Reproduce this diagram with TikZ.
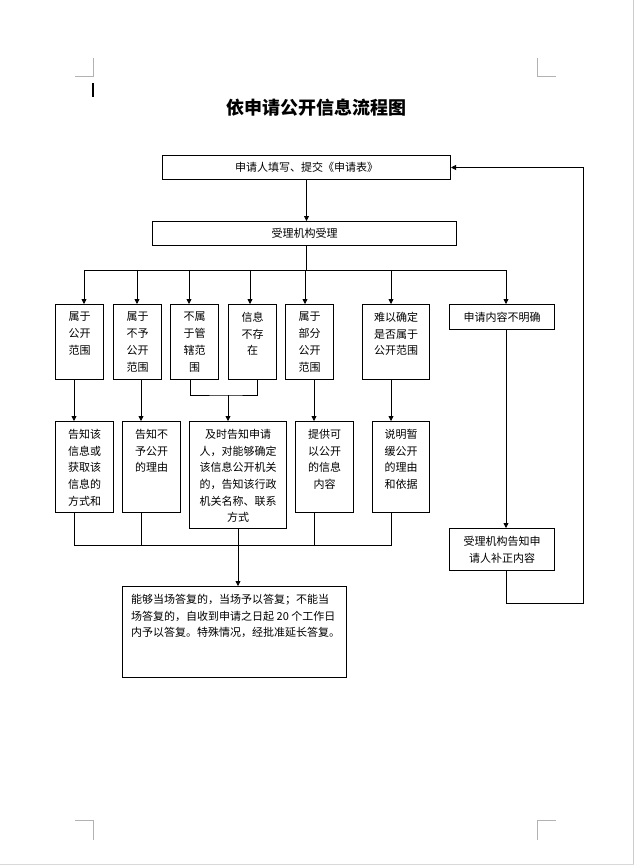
\documentclass[tikz,border=0pt]{standalone}
\usepackage{fontspec}
\setmainfont{Noto Sans CJK SC}
\usetikzlibrary{arrows.meta, calc}

\begin{document}
\begin{tikzpicture}[
  x=1pt, y=-1pt,
  font=\fontsize{11}{16.7}\selectfont,
  box/.style={draw, line width=1pt, inner sep=0pt, anchor=north west, align=center},
  txt/.style={anchor=north, align=center, inner sep=0pt, yshift=-8pt},
  arr/.style={-{Triangle[length=5pt,width=5pt]}, line width=0.8pt},
  ln/.style={line width=0.8pt},
  cropline/.style={draw=black!30, line width=0.6pt}
]
\useasboundingbox (0,0) rectangle (634,865);

% page marks
\draw[cropline] (75,76) -- (93,76) -- (93,58);
\draw[cropline] (537,58) -- (537,76) -- (556,76);
\draw[cropline] (75,820) -- (93,820) -- (93,840);
\draw[cropline] (556,820) -- (537,820) -- (537,840);
\draw[line width=1.6pt] (93,83) -- (93,97);
\draw[draw=black!20, line width=1pt] (633.5,0) -- (633.5,865);
\draw[draw=black!15, line width=1pt] (0,864.5) -- (634,864.5);

\node[font=\fontsize{18}{20}\selectfont\bfseries] (title) at (316,108) {依申请公开信息流程图};

\node[box, minimum width=288pt, minimum height=24pt] (apply) at (162,155) {申请人填写、提交《申请表》};
\node[box, minimum width=304pt, minimum height=24pt] (accept) at (152,221) {受理机构受理};

% first row
\node[box, minimum width=48pt, minimum height=75pt, label={[txt]north:属于\\公开\\范围}] (b1) at (55,304) {};
\node[box, minimum width=48pt, minimum height=75pt, label={[txt]north:属于\\不予\\公开\\范围}] (b2) at (113,304) {};
\node[box, minimum width=48pt, minimum height=75pt, label={[txt]north:不属\\于管\\辖范\\围}] (b3) at (170,304) {};
\node[box, minimum width=48pt, minimum height=75pt, label={[txt]north:信息\\不存\\在}] (b4) at (228,304) {};
\node[box, minimum width=48pt, minimum height=75pt, label={[txt]north:属于\\部分\\公开\\范围}] (b5) at (285,304) {};
\node[box, minimum width=67pt, minimum height=75pt, label={[txt]north:难以确定\\是否属于\\公开范围}] (b6) at (362,304) {};
\node[box, minimum width=105pt, minimum height=25pt] (b7) at (449,304) {申请内容不明确};

% second row
\node[box, minimum width=58pt, minimum height=91pt, label={[txt]north:告知该\\信息或\\获取该\\信息的\\方式和}] (r1) at (55,421) {};
\node[box, minimum width=58pt, minimum height=91pt, label={[txt]north:告知不\\予公开\\的理由}] (r2) at (122,421) {};
\node[box, minimum width=97pt, minimum height=107pt, label={[txt]north:及时告知申请\\人，对能够确定\\该信息公开机关\\的，告知该行政\\机关名称、联系\\方式}] (r3) at (189,421) {};
\node[box, minimum width=58pt, minimum height=91pt, label={[txt]north:提供可\\以公开\\的信息\\内容}] (r4) at (295,421) {};
\node[box, minimum width=57pt, minimum height=91pt, label={[txt]north:说明暂\\缓公开\\的理由\\和依据}] (r5) at (372,421) {};
\node[box, minimum width=105pt, minimum height=42pt] (r7) at (449,528) {受理机构告知申\\请人补正内容};

\node[box, minimum width=224pt, minimum height=91pt, label={[anchor=north west, align=left, inner sep=0pt, xshift=9pt, yshift=-8pt]north west:能够当场答复的，当场予以答复；不能当\\场答复的，自收到申请之日起 20 个工作日\\内予以答复。特殊情况，经批准延长答复。}] (final) at (122,586) {};

\coordinate (bus) at (306,270);
\coordinate (join) at (228,395);
\coordinate (merge) at (238,545);
\coordinate (back) at (583,603);

\draw[arr] (apply.south) -- (apply.south |- accept.north);
\draw[ln] (306,0 |- accept.south) -- (bus);
\draw[ln] (84,0 |- bus) -- (506,0 |- bus);
\foreach \n/\x in {b1/84, b2/137, b3/189, b4/250, b5/305, b6/391, b7/506}
  \draw[arr] (\x,0 |- bus) -- (\x,0 |- \n.north);

\draw[arr] (74,0 |- b1.south) -- (74,0 |- r1.north);
\draw[arr] (141,0 |- b2.south) -- (141,0 |- r2.north);
\draw[ln] (190,0 |- b3.south) |- (join) -| (257,0 |- b4.south);
\draw[arr] (join) -- (join |- r3.north);
\draw[arr] (314,0 |- b5.south) -- (314,0 |- r4.north);
\draw[arr] (391,0 |- b6.south) -- (391,0 |- r5.north);
\draw[arr] (506,0 |- b7.south) -- (506,0 |- r7.north);

\draw[ln] (74,0 |- r1.south) |- (391,0 |- merge) -- (391,0 |- r5.south);
\draw[ln] (141,0 |- r2.south) -- (141,0 |- merge);
\draw[ln] (314,0 |- r4.south) -- (314,0 |- merge);
\draw[arr] (merge |- r3.south) -- (merge |- final.north);

\draw[arr] (506,0 |- r7.south) |- (back) |- (apply.east);
\end{tikzpicture}
\end{document}
